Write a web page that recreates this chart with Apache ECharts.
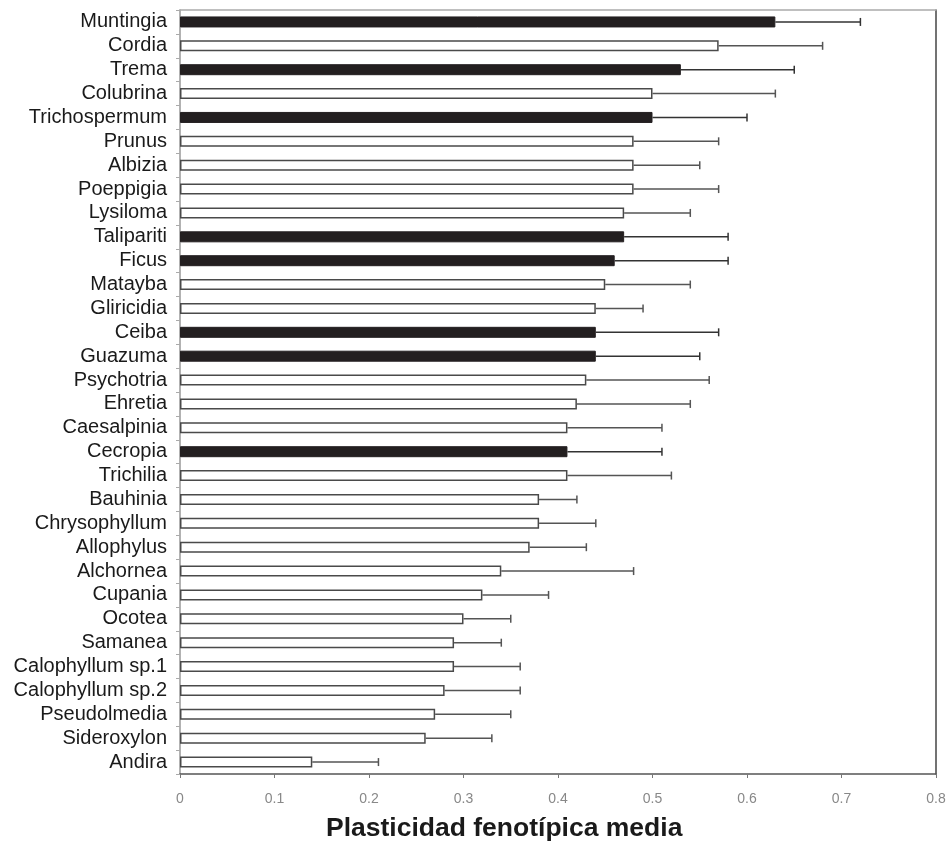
<!DOCTYPE html>
<html>
<head>
<meta charset="utf-8">
<script src="https://cdn.jsdelivr.net/npm/echarts@6/dist/echarts.min.js"></script>
<style>html,body{margin:0;padding:0;background:#fff}#c{width:952px;height:844px}</style>
</head>
<body>
<div id="c"></div>
<script>
const categories = ["Muntingia","Cordia","Trema","Colubrina","Trichospermum","Prunus","Albizia","Poeppigia","Lysiloma","Talipariti","Ficus","Matayba","Gliricidia","Ceiba","Guazuma","Psychotria","Ehretia","Caesalpinia","Cecropia","Trichilia","Bauhinia","Chrysophyllum","Allophylus","Alchornea","Cupania","Ocotea","Samanea","Calophyllum sp.1","Calophyllum sp.2","Pseudolmedia","Sideroxylon","Andira"];
const means = [0.63,0.57,0.53,0.50,0.50,0.48,0.48,0.48,0.47,0.47,0.46,0.45,0.44,0.44,0.44,0.43,0.42,0.41,0.41,0.41,0.38,0.38,0.37,0.34,0.32,0.30,0.29,0.29,0.28,0.27,0.26,0.14];
const upper = [0.72,0.68,0.65,0.63,0.60,0.57,0.55,0.57,0.54,0.58,0.58,0.54,0.49,0.57,0.55,0.56,0.54,0.51,0.51,0.52,0.42,0.44,0.43,0.48,0.39,0.35,0.34,0.36,0.36,0.35,0.33,0.21];
const darkGroup = ["Muntingia","Trema","Trichospermum","Talipariti","Ficus","Ceiba","Guazuma","Cecropia"];
const xTicks = [0,0.1,0.2,0.3,0.4,0.5,0.6,0.7,0.8];
const xTitle = "Plasticidad fenotípica media";

const chart = echarts.init(document.getElementById('c'));
const barData = categories.map((c,i)=>{
  const dark = darkGroup.includes(c);
  return {value: means[i], itemStyle: dark ? {color:'#231f20', borderColor:'#231f20', borderWidth:1} : {color:'#ffffff', borderColor:'#4a4a4a', borderWidth:1.5}};
});
const errData = categories.map((c,i)=>[i, means[i], upper[i]]);

chart.setOption({
  animation:false,
  backgroundColor:'#fff',
  grid:{left:180, right:16, top:10, bottom:70, containLabel:false},
  xAxis:[{
    type:'value', min:0, max:0.8, interval:0.1,
    axisLine:{show:true, onZero:false, lineStyle:{color:'#555', width:1.5}},
    axisTick:{show:true, length:4, lineStyle:{color:'#777'}},
    splitLine:{show:false},
    axisLabel:{color:'#888', fontSize:14, fontFamily:'Liberation Sans, Arial', margin:18,
      formatter:v=>{const t=xTicks.find(x=>Math.abs(x-v)<1e-9); return t===undefined?'':String(t);}}
  },{
    type:'value', position:'top', min:0, max:0.8,
    axisLine:{show:true, onZero:false, lineStyle:{color:'#aaa', width:1.5}},
    axisTick:{show:false}, axisLabel:{show:false}, splitLine:{show:false}
  }],
  yAxis:[{
    type:'category', data:categories, inverse:true,
    axisLine:{show:true, onZero:false, lineStyle:{color:'#999', width:1.5}},
    axisTick:{show:true, length:4, lineStyle:{color:'#aaa'}},
    axisLabel:{interval:0, color:'#1a1a1a', fontSize:20, fontFamily:'Liberation Sans, Arial', margin:13}
  },{
    type:'category', data:categories, inverse:true, position:'right',
    axisLine:{show:true, onZero:false, lineStyle:{color:'#444', width:1.5}},
    axisTick:{show:false}, axisLabel:{show:false}
  }],
  series:[{
    type:'bar', data:barData, barWidth:11, xAxisIndex:0, yAxisIndex:0, z:3
  },{
    type:'custom', xAxisIndex:0, yAxisIndex:0, z:2,
    data: errData,
    renderItem:(params, api)=>{
      const y = api.value(0);
      const p0 = api.coord([api.value(1), y]);
      const p1 = api.coord([api.value(2), y]);
      const h = 4;
      const dark = darkGroup.includes(categories[y]);
      const st = {stroke: dark ? '#333' : '#555', lineWidth:1.5};
      return {type:'group', children:[
        {type:'line', shape:{x1:p0[0], y1:p0[1], x2:p1[0], y2:p1[1]}, style:st},
        {type:'line', shape:{x1:p1[0], y1:p1[1]-h, x2:p1[0], y2:p1[1]+h}, style:st}
      ]};
    }
  }],
  graphic:[{
    type:'text', left:326, top:815,
    style:{text:xTitle, font:'bold 26.5px "Liberation Sans", Arial', fill:'#1a1a1a'}
  }]
});
</script>
</body>
</html>
